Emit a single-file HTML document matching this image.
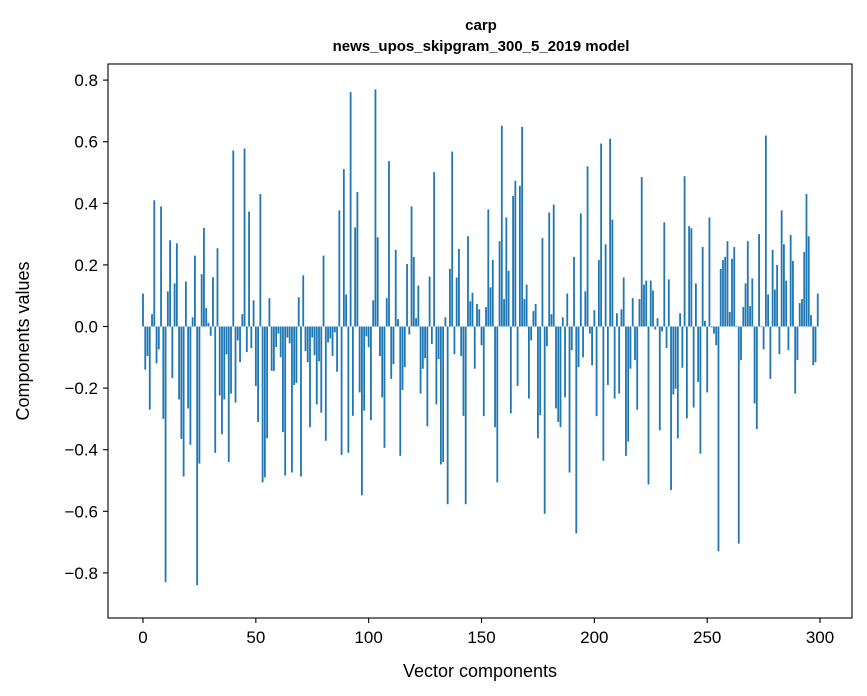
<!DOCTYPE html>
<html><head><meta charset="utf-8"><style>
html,body{margin:0;padding:0;background:#fff;}
svg{display:block;font-family:"Liberation Sans",sans-serif;}
</style></head><body>
<svg id="chart" width="867" height="696" viewBox="0 0 867 696">
<rect width="867" height="696" fill="#fff"/>
<text x="481" y="30" text-anchor="middle" font-size="15" font-weight="bold">carp</text>
<text x="481" y="51" text-anchor="middle" font-size="15" font-weight="bold">news_upos_skipgram_300_5_2019 model</text>
<g id="bars"></g>
<g id="xticks"></g>
<g id="yticks"></g>
<rect x="108" y="64" width="744" height="554" fill="none" stroke="#000" stroke-width="1.1"/>
<text x="480" y="677" text-anchor="middle" font-size="18">Vector components</text>
<text transform="translate(29,341) rotate(-90)" text-anchor="middle" font-size="18">Components values</text>
</svg>
<script>
const values = [
0.107,-0.14,-0.096,-0.27,0.04,0.41,-0.12,-0.074,0.39,-0.30,
-0.83,0.114,0.28,-0.167,0.14,0.27,-0.237,-0.365,-0.487,0.146,
-0.266,-0.384,0.03,0.23,-0.84,-0.445,0.17,0.32,0.06,0.012,
-0.03,0.16,-0.41,0.254,-0.224,-0.35,-0.237,-0.09,-0.44,-0.218,
0.571,-0.247,-0.045,-0.116,0.04,0.578,-0.083,0.373,-0.07,0.085,
-0.193,-0.31,0.43,-0.506,-0.49,-0.363,0.092,-0.144,-0.144,-0.067,
-0.023,-0.1,-0.343,-0.484,-0.036,-0.055,-0.474,-0.19,-0.183,0.095,
-0.487,0.166,-0.08,-0.116,-0.327,-0.036,-0.093,-0.253,-0.113,-0.28,
0.23,-0.371,-0.052,-0.039,-0.096,-0.019,-0.147,0.377,-0.417,0.511,
0.104,-0.41,0.761,-0.29,0.322,0.437,-0.214,-0.548,-0.273,-0.032,
-0.067,-0.304,0.085,0.77,0.29,-0.096,-0.23,-0.394,0.092,0.537,
-0.17,-0.122,0.249,0.024,-0.42,-0.206,-0.132,0.203,-0.026,0.39,
0.226,0.027,0.133,-0.218,-0.137,-0.103,-0.324,0.162,-0.057,0.501,
-0.253,-0.106,-0.448,-0.44,0.03,-0.577,0.187,0.568,-0.09,0.159,
0.252,-0.096,-0.29,-0.577,0.293,0.082,0.11,-0.137,0.073,0.056,
-0.061,-0.291,0.063,0.38,0.127,0.216,-0.327,-0.506,0.277,0.652,
0.089,0.354,0.181,-0.282,0.424,0.473,-0.193,0.457,0.648,0.089,
0.136,-0.234,-0.045,0.05,0.073,-0.363,-0.288,0.287,-0.608,-0.064,
0.37,0.04,0.396,-0.266,-0.31,-0.327,0.03,-0.23,0.107,-0.474,
-0.077,0.226,-0.672,-0.132,0.367,-0.1,0.114,0.52,-0.023,-0.126,
0.053,-0.291,0.216,0.594,-0.436,0.267,-0.19,0.61,0.347,-0.234,
0.043,-0.218,0.056,0.159,-0.42,-0.374,-0.137,0.092,-0.109,-0.27,
0.089,0.485,0.136,0.149,-0.513,0.149,0.117,-0.01,0.027,-0.337,
-0.016,0.338,-0.07,0.153,-0.531,-0.221,-0.202,-0.363,0.043,-0.134,
0.488,-0.298,0.326,0.319,-0.263,0.14,-0.18,-0.413,0.258,0.018,
-0.214,0.354,-0.003,-0.023,-0.061,-0.73,0.187,0.216,0.226,0.277,
0.047,0.22,0.258,0.002,-0.705,-0.109,0.063,0.14,0.277,0.066,
0.156,-0.25,-0.333,0.3,0.002,-0.074,0.62,0.104,-0.17,0.249,
0.12,0.2,-0.09,0.377,0.267,0.149,-0.077,0.297,0.213,-0.218,
-0.109,0.076,0.089,0.242,0.43,0.293,0.037,-0.126,-0.116,0.107
];
const xTickValues = [0,50,100,150,200,250,300];
const yTickValues = [-0.8,-0.6,-0.4,-0.2,0.0,0.2,0.4,0.6,0.8];
const yTickLabels = ["\u22120.8","\u22120.6","\u22120.4","\u22120.2","0.0","0.2","0.4","0.6","0.8"];

const NS="http://www.w3.org/2000/svg";
const xScale = v => 143 + v*2.2567;
const yScale = v => 326.5 - v*308;
const barsG=document.getElementById('bars');
values.forEach((v,i)=>{
  const r=document.createElementNS(NS,'rect');
  const y0=yScale(0), y1=yScale(v);
  r.setAttribute('x',xScale(i-0.4));
  r.setAttribute('width',0.8*2.2567);
  r.setAttribute('y',Math.min(y0,y1));
  r.setAttribute('height',Math.max(Math.abs(y1-y0),0.5));
  r.setAttribute('fill','#1f77b4');
  
  
  barsG.appendChild(r);
});
const xt=document.getElementById('xticks');
xTickValues.forEach(t=>{
  const x=xScale(t);
  const l=document.createElementNS(NS,'line');
  l.setAttribute('x1',x);l.setAttribute('x2',x);l.setAttribute('y1',618);l.setAttribute('y2',623);
  l.setAttribute('stroke','#000');l.setAttribute('stroke-width','1.1');
  
  
  xt.appendChild(l);
  const tx=document.createElementNS(NS,'text');
  tx.setAttribute('x',x);tx.setAttribute('y',643);tx.setAttribute('text-anchor','middle');tx.setAttribute('font-size','17');
  tx.textContent=String(t);
  
  
  xt.appendChild(tx);
});
const yt=document.getElementById('yticks');
yTickValues.forEach((t,i)=>{
  const y=yScale(t);
  const l=document.createElementNS(NS,'line');
  l.setAttribute('x1',103);l.setAttribute('x2',108);l.setAttribute('y1',y);l.setAttribute('y2',y);
  l.setAttribute('stroke','#000');l.setAttribute('stroke-width','1.1');
  
  
  yt.appendChild(l);
  const tx=document.createElementNS(NS,'text');
  tx.setAttribute('x',98);tx.setAttribute('y',y+6);tx.setAttribute('text-anchor','end');tx.setAttribute('font-size','17');
  tx.textContent=yTickLabels[i];
  
  
  yt.appendChild(tx);
});
</script>
</body></html>
